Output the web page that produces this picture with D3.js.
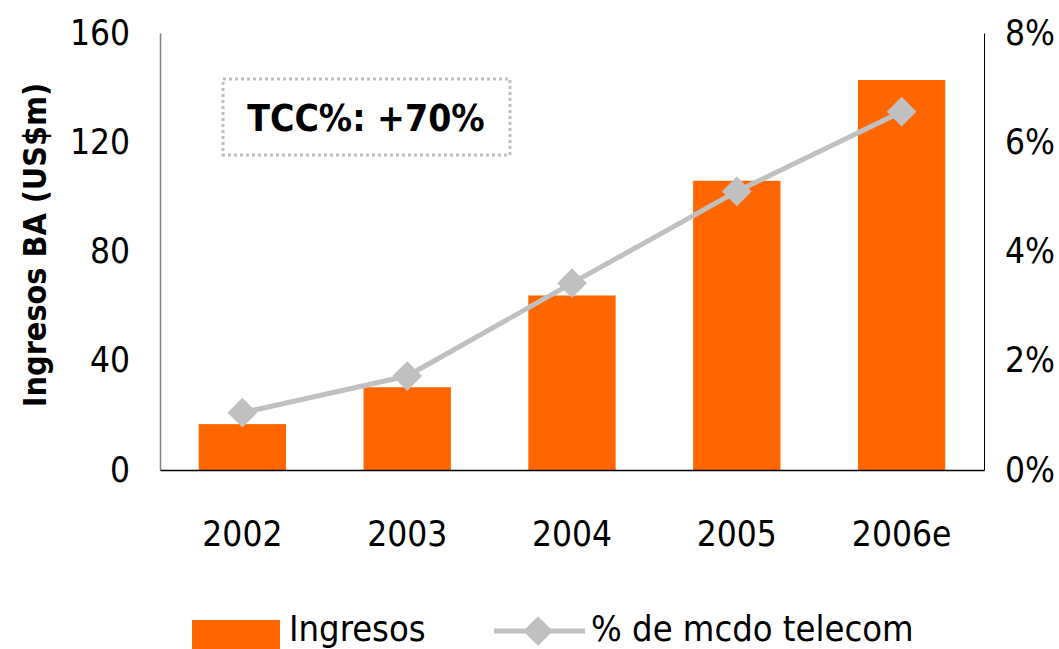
<!DOCTYPE html>
<html><head><meta charset="utf-8">
<script src="https://cdn.jsdelivr.net/npm/d3@7"></script>
<style>body{margin:0;background:#fff}svg{display:block}text{font-family:"DejaVu Sans Condensed","DejaVu Sans",sans-serif}</style>
</head><body>
<script>
const categories = ["2002","2003","2004","2005","2006e"];
const ingresos = [16.8, 30.3, 63.9, 105.9, 142.8];
const pctMercado = [1.05, 1.72, 3.42, 5.10, 6.56];
const leftTicks = [0, 40, 80, 120, 160];
const rightTicks = [0, 2, 4, 6, 8];
const yTitle = "Ingresos BA (US$m)";
const annotation = "TCC%: +70%";
const legendLabels = ["Ingresos", "% de mcdo telecom"];

const W = 1059, H = 649;
const m = {l:160, r:75, t:33, b:179};
const iw = W - m.l - m.r, ih = H - m.t - m.b;
const svg = d3.select("body").append("svg").attr("width", W).attr("height", H);
const g = svg.append("g").attr("transform", `translate(${m.l},${m.t})`);

const x = d3.scaleBand().domain(categories).range([0, iw]).paddingInner(0.47).paddingOuter(0.235);
const y = d3.scaleLinear().domain([0,160]).range([ih,0]);
const y2 = d3.scaleLinear().domain([0,8]).range([ih,0]);

const orange = "#ff6600", gray = "#c0c0c0";

// bars
g.selectAll("rect.bar").data(ingresos).join("rect").attr("class","bar")
  .attr("x",(d,i)=>x(categories[i])).attr("width",x.bandwidth())
  .attr("y",d=>y(d)).attr("height",d=>ih-y(d)).attr("fill",orange);

// axes
const ya = g.append("g").call(d3.axisLeft(y).tickValues(leftTicks).tickSize(0).tickPadding(30));
ya.select(".domain").attr("stroke","#808080").attr("stroke-width",1.5);
ya.selectAll("text").attr("font-size",35).attr("fill","#000");
const ya2 = g.append("g").attr("transform",`translate(${iw},0)`).call(d3.axisRight(y2).tickValues(rightTicks).tickFormat(d=>d+"%").tickSize(0).tickPadding(21));
ya2.select(".domain").attr("stroke","#000").attr("stroke-width",1);
ya2.selectAll("text").attr("font-size",35).attr("fill","#000");
const xa = g.append("g").attr("transform",`translate(0,${ih})`).call(d3.axisBottom(x).tickSize(0).tickPadding(51));
xa.select(".domain").attr("stroke","#000").attr("stroke-width",1.5);
xa.selectAll("text").attr("font-size",35).attr("fill","#000");

// line
const cx = (i)=>x(categories[i])+x.bandwidth()/2;
g.append("path").datum(pctMercado)
  .attr("d", d3.line().x((d,i)=>cx(i)).y(d=>y2(d)))
  .attr("fill","none").attr("stroke",gray).attr("stroke-width",5);
const diamond = d3.symbol().type(d3.symbolSquare).size(21*21);
g.selectAll("path.pt").data(pctMercado).join("path").attr("class","pt")
  .attr("d",diamond).attr("fill",gray)
  .attr("transform",(d,i)=>`translate(${cx(i)},${y2(d)}) rotate(45)`);

// y title
svg.append("text").attr("transform","translate(46,245) rotate(-90)")
  .attr("text-anchor","middle").attr("font-size",32).attr("font-weight","bold").text(yTitle);

// annotation box
svg.append("rect").attr("x",223).attr("y",79).attr("width",287).attr("height",76)
  .attr("fill","none").attr("stroke",gray).attr("stroke-width",3).attr("stroke-dasharray","3,3");
svg.append("text").attr("x",366).attr("y",131).attr("text-anchor","middle")
  .attr("font-size",37).attr("font-weight","bold").text(annotation);

// legend
const lg = svg.append("g");
lg.append("rect").attr("x",192).attr("y",620).attr("width",88).attr("height",30).attr("fill",orange);
lg.append("text").attr("x",289).attr("y",641).attr("font-size",36).text(legendLabels[0]);
lg.append("line").attr("x1",494).attr("x2",585).attr("y1",631).attr("y2",631).attr("stroke",gray).attr("stroke-width",5);
lg.append("path").attr("d",diamond).attr("fill",gray).attr("transform","translate(538,631) rotate(45)");
lg.append("text").attr("x",591).attr("y",641).attr("font-size",36).text(legendLabels[1]);
</script>
</body></html>
